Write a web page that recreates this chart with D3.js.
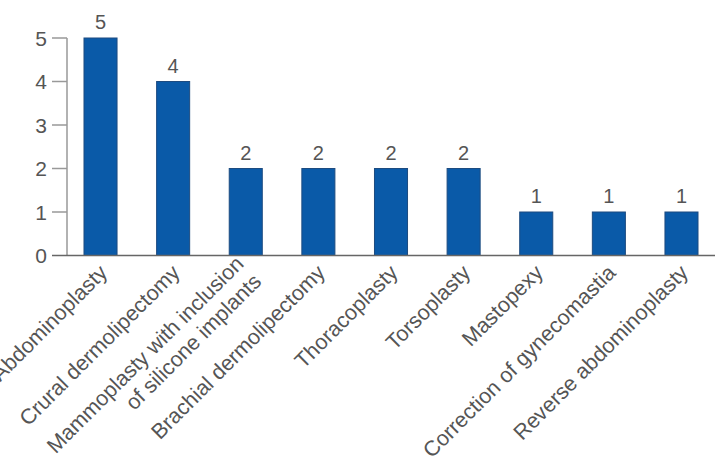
<!DOCTYPE html>
<html>
<head>
<meta charset="utf-8">
<script src="https://cdn.jsdelivr.net/npm/d3@7"></script>
<style>
  body { margin: 0; background: #fff; }
  svg text { font-family: "Liberation Sans", Arial, sans-serif; fill: #555; }
</style>
</head>
<body>
<svg width="716" height="460"></svg>
<script>
// chart data
const categories = [
    ["Abdominoplasty"],
    ["Crural dermolipectomy"],
    ["Mammoplasty with inclusion", "of silicone implants"],
    ["Brachial dermolipectomy"],
    ["Thoracoplasty"],
    ["Torsoplasty"],
    ["Mastopexy"],
    ["Correction of gynecomastia"],
    ["Reverse abdominoplasty"]
];
const values = [5, 4, 2, 2, 2, 2, 1, 1, 1];
const yTicks = [0, 1, 2, 3, 4, 5];

const svg = d3.select("svg");
const axisX = 67, baseY = 255.5, topY = 38;

const x = d3.scaleBand()
    .domain(d3.range(categories.length))
    .range([axisX, 715])
    .paddingInner(0.545)
    .paddingOuter(0.234);

const y = d3.scaleLinear().domain([0, 5]).range([baseY, topY]);

// y axis
svg.append("line")
    .attr("x1", axisX).attr("x2", axisX)
    .attr("y1", y(5)).attr("y2", baseY)
    .attr("stroke", "#999").attr("stroke-width", 1.5);

const tick = svg.append("g").selectAll("g")
    .data(yTicks).enter().append("g")
    .attr("transform", d => `translate(0,${y(d)})`);
tick.filter(d => d > 0).append("line")
    .attr("x1", 52).attr("x2", axisX)
    .attr("stroke", "#999").attr("stroke-width", 1.5);
tick.append("text")
    .attr("x", 47).attr("dy", "0.36em")
    .attr("text-anchor", "end")
    .style("font-size", "21px")
    .text(d => d);

// bars
svg.append("g").selectAll("rect")
    .data(values).enter().append("rect")
    .attr("x", (d, i) => x(i))
    .attr("y", d => y(d))
    .attr("width", x.bandwidth())
    .attr("height", d => baseY - y(d))
    .attr("fill", "#0a5aa8")
    .attr("stroke", "#1d4b80")
    .attr("stroke-width", 1);

// value labels
svg.append("g").selectAll("text")
    .data(values).enter().append("text")
    .attr("x", (d, i) => x(i) + x.bandwidth() / 2)
    .attr("y", d => y(d) - 9)
    .attr("text-anchor", "middle")
    .style("font-size", "20px")
    .text(d => d);

// baseline
svg.append("line")
    .attr("x1", 52).attr("x2", 715)
    .attr("y1", baseY).attr("y2", baseY)
    .attr("stroke", "#666").attr("stroke-width", 1.5);

// category labels, rotated
const lineH = 25;
const lab = svg.append("g").selectAll("text")
    .data(categories).enter().append("text")
    .attr("transform", (d, i) => `translate(${x(i) + x.bandwidth() / 2 + 8},274) rotate(-45)`)
    .attr("text-anchor", "end")
    .style("font-size", "21.5px");
lab.selectAll("tspan")
    .data(d => d.map((t, j) => ({ t, j, n: d.length })))
    .enter().append("tspan")
    .attr("x", 0)
    .attr("y", d => (d.j - (d.n - 1) / 2) * lineH)
    .text(d => d.t);
</script>
</body>
</html>
